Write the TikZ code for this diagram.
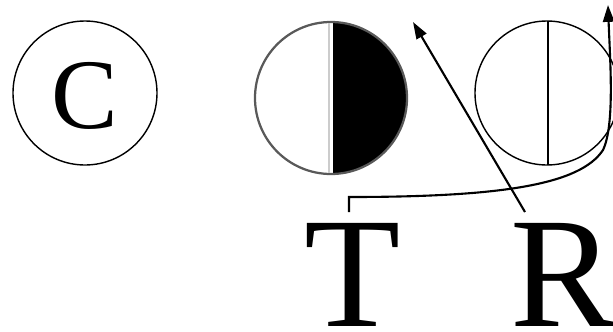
\documentclass[tikz,border=0pt]{standalone}
\usepackage{fontspec}
\setmainfont{Liberation Serif}
\usetikzlibrary{arrows.meta, positioning}

\begin{document}
\begin{tikzpicture}[x=0.025cm, y=-0.025cm,
    ring/.style={line width=1pt},
    ray/.style={line width=1.5pt, -{Triangle[length=12pt, width=8pt]}},
    biglet/.style={inner sep=0pt, anchor=base, text depth=0pt, font=\fontsize{112}{112}\selectfont},
    midlet/.style={inner sep=0pt, anchor=base, text depth=0pt, font=\fontsize{71}{71}\selectfont}]
    \useasboundingbox (0,0) rectangle (613,331);
    % plain circle with letter
    \draw[ring] (85,93) circle (72);
    \node[midlet] (C) at (85,128) {C};
    % half filled circle
    \begin{scope}
        \clip (333,0) rectangle (420,200);
        \fill (331,98) circle (76);
    \end{scope}
    \draw[black!65, line width=1.6pt] (331,98) circle (76);
    \draw[gray!40, line width=0.8pt] (329,23) -- (329,173);
    % split circle
    \draw[ring] (547,93) circle (72);
    \draw[ring] (548,21) -- (548,165);
    % letters and arrows
    \node[biglet] (T) at (353,326) {T};
    \node[biglet] (R) at (563,326) {R};
    \coordinate (tfoot) at (349,212);
    \coordinate (rfoot) at (525,212);
    \coordinate (rtip) at (413,22);
    \coordinate (ttip) at (608,5);
    \draw[ray] (rfoot) -- (rtip);
    \draw[ray] (tfoot) -- (349,197) .. controls (500,197) and (580,185) .. (603,150)
        .. controls (615,125) and (610,60) .. (ttip);
\end{tikzpicture}
\end{document}
